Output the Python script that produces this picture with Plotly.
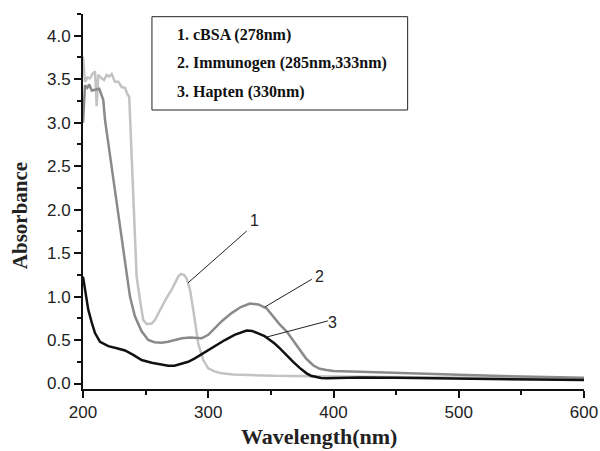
import plotly.graph_objects as go

# cBSA (curve 1, light gray)
x1 = [200, 201.6, 203.5, 205.6, 207.5, 209.6, 210.9, 212.2, 214.9, 216.8, 218.9, 220.8, 222.9, 225.5, 228.2, 230.9,
      233.5, 235.7, 236.9, 238, 240.1, 242.8, 245.5, 248.1, 250.8, 254.8, 257.4, 262.8, 266.5, 270.8, 274, 276, 278.2,
      280.5, 282.7, 285.4, 288, 292, 296, 300, 305, 310.6, 320, 331.9, 353.2, 380, 400, 450, 500, 550, 600]
y1 = [3.76, 3.47, 3.52, 3.51, 3.56, 3.59, 3.19, 3.55, 3.51, 3.49, 3.55, 3.53, 3.56, 3.47, 3.47, 3.41,
      3.40, 3.32, 3.30, 2.88, 2.11, 1.23, 0.96, 0.73, 0.685, 0.69, 0.73, 0.88, 0.98, 1.08, 1.17, 1.23, 1.26,
      1.25, 1.21, 1.08, 0.85, 0.46, 0.27, 0.175, 0.14, 0.117, 0.105, 0.098, 0.088, 0.083, 0.08, 0.075, 0.07, 0.062, 0.055]

# Immunogen (curve 2, mid gray)
x2 = [200, 201.6, 203.4, 205, 207, 209.6, 213, 216.2, 217.6, 226.9, 234.9, 237.5, 241.5, 246.8, 252.1, 257, 262.8,
      268, 273.4, 279, 285.4, 290, 294.7, 300, 305.3, 311, 318.6, 326, 333.2, 340, 346.5, 351.8, 357, 362.5, 368,
      373.1, 378, 383.7, 389, 394.4, 400, 421, 450, 500, 550, 600]
y2 = [3.0, 3.43, 3.40, 3.44, 3.37, 3.38, 3.39, 3.26, 3.03, 2.08, 1.23, 1.0, 0.77, 0.6, 0.5, 0.475, 0.47,
      0.48, 0.5, 0.52, 0.53, 0.525, 0.52, 0.56, 0.635, 0.72, 0.81, 0.88, 0.92, 0.91, 0.865, 0.77, 0.68, 0.6, 0.49,
      0.385, 0.29, 0.21, 0.17, 0.155, 0.145, 0.135, 0.12, 0.1, 0.08, 0.065]

# Hapten (curve 3, black)
x3 = [200, 202, 204.2, 207, 209.6, 213.6, 220.2, 227, 233.5, 240.1, 246.8, 254.8, 261, 268, 273, 278.7, 284, 289.3,
      295, 299.9, 306, 313.3, 321, 326, 330.6, 335, 341.2, 345, 349.2, 353, 357.2, 362, 367.8, 373, 378.5, 382,
      386.4, 390, 394.4, 400, 421, 450, 500, 550, 600]
y3 = [1.23, 1.05, 0.85, 0.7, 0.58, 0.48, 0.43, 0.405, 0.38, 0.33, 0.27, 0.24, 0.22, 0.205, 0.205, 0.225, 0.25, 0.29,
      0.34, 0.385, 0.44, 0.5, 0.56, 0.59, 0.61, 0.605, 0.57, 0.545, 0.5, 0.46, 0.405, 0.33, 0.25, 0.18, 0.117, 0.09,
      0.071, 0.063, 0.06, 0.062, 0.068, 0.065, 0.058, 0.048, 0.04]

legend_labels = ["1. cBSA (278nm)", "2. Immunogen (285nm,333nm)", "3. Hapten (330nm)"]
curve_labels = ["1", "2", "3"]
# leader lines: start on curve (data coords) -> end near label
leader_start_x = [283.8, 345.2, 346.8]
leader_start_y = [1.157, 0.88, 0.535]
leader_end_x = [330.8, 382.7, 395.5]
leader_end_y = [1.755, 1.20, 0.72]
label_x = [337.2, 389.1, 399.4]
label_y = [1.87, 1.23, 0.70]

colors = ["#c3c3c3", "#8a8a8a", "#111111"]

fig = go.Figure()
for xs, ys, c in [(x1, y1, colors[0]), (x2, y2, colors[1]), (x3, y3, colors[2])]:
    fig.add_trace(go.Scatter(x=xs, y=ys, mode="lines", line=dict(color=c, width=2.5), showlegend=False))

for i in range(3):
    fig.add_shape(type="line", xref="x", yref="y", x0=leader_start_x[i], y0=leader_start_y[i],
                  x1=leader_end_x[i], y1=leader_end_y[i], line=dict(color="#222", width=1))
    fig.add_annotation(x=label_x[i], y=label_y[i], xref="x", yref="y", text=curve_labels[i], showarrow=False,
                       font=dict(family="Liberation Sans, Arial", size=16, color="#222"))

# legend box
fig.add_shape(type="rect", xref="paper", yref="paper", x0=0.1376, x1=0.648, y0=0.744, y1=0.9928,
              line=dict(color="#222", width=1), fillcolor="white")
for i, t in enumerate(legend_labels):
    fig.add_annotation(x=0.1845, y=[0.944, 0.869, 0.792][i], xref="paper", yref="paper", text="<b>%s</b>" % t,
                       showarrow=False, xanchor="left", yanchor="middle",
                       font=dict(family="Liberation Serif, Times New Roman", size=16, color="#111"))

fig.add_annotation(x=0.4707, y=-0.127, xref="paper", yref="paper", text="<b>Wavelength(nm)</b>", showarrow=False,
                   xanchor="center", yanchor="middle",
                   font=dict(family="Liberation Serif, Times New Roman", size=22, color="#222"))
fig.add_annotation(x=-0.1257, y=0.461, xref="paper", yref="paper", text="<b>Absorbance</b>", showarrow=False,
                   textangle=-90, xanchor="center", yanchor="middle",
                   font=dict(family="Liberation Serif, Times New Roman", size=21, color="#222"))

fig.update_xaxes(range=[200, 600], tickvals=[200, 300, 400, 500, 600], showgrid=False, zeroline=False,
                 automargin=False,
                 showline=True, linecolor="#111", linewidth=2, ticks="outside", ticklen=7, tickwidth=2,
                 tickcolor="#111",
                 minor=dict(tickvals=[250, 350, 450, 550], ticks="outside", ticklen=4, tickwidth=2, tickcolor="#111"),
                 tickfont=dict(family="Liberation Sans, Arial", size=17, color="#222"))
fig.update_yaxes(range=[-0.063, 4.25], tickvals=[0, 0.5, 1, 1.5, 2, 2.5, 3, 3.5, 4],
                 ticktext=["0.0", "0.5", "1.0", "1.5", "2.0", "2.5", "3.0", "3.5", "4.0"],
                 showgrid=False, zeroline=False, automargin=False,
                 showline=True, linecolor="#111", linewidth=2, ticks="outside", ticklen=7, tickwidth=2,
                 tickcolor="#111",
                 minor=dict(tickvals=[0.25, 0.75, 1.25, 1.75, 2.25, 2.75, 3.25, 3.75, 4.25], ticks="outside",
                            ticklen=4, tickwidth=2, tickcolor="#111"),
                 tickfont=dict(family="Liberation Sans, Arial", size=17, color="#222"))

fig.update_layout(width=600, height=451, margin=dict(l=83, r=16, t=14, b=62),
                  plot_bgcolor="white", paper_bgcolor="white")
fig.write_html("out.html")
